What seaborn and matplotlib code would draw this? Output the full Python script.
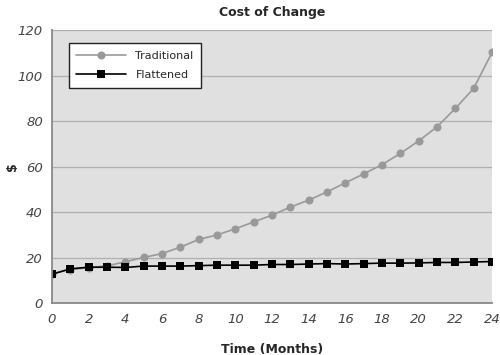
import matplotlib
matplotlib.use("Agg")
import matplotlib.pyplot as plt
import pandas as pd
import seaborn as sns

months = list(range(25))
traditional = [13.0, 14.8, 15.6, 16.4, 18.2, 20.1, 21.8, 24.6, 28.0, 30.0, 32.7,
               35.7, 38.7, 42.2, 45.3, 48.9, 52.9, 56.8, 60.9, 65.8, 71.3,
               77.5, 85.6, 94.4, 110.2]
flattened = [12.7, 15.1, 15.8, 15.8, 15.7, 16.3, 16.3, 16.3, 16.5, 16.7, 16.7,
             16.7, 17.0, 17.0, 17.2, 17.4, 17.2, 17.4, 17.6, 17.6, 17.7,
             17.9, 17.9, 18.1, 18.3]

df = pd.DataFrame({
    "month": months * 2,
    "cost": traditional + flattened,
    "series": ["Traditional"] * 25 + ["Flattened"] * 25,
})

sns.set_style("white")
plt.rcParams["font.family"] = ["DejaVu Sans"]

fig = plt.figure(figsize=(5, 3.55), dpi=100)
ax = fig.add_axes([0.104, 0.146, 0.88, 0.769])
ax.set_facecolor("#e0e0e0")

sns.lineplot(data=df, x="month", y="cost", hue="series", style="series",
             palette={"Traditional": "#999999", "Flattened": "#000000"},
             markers={"Traditional": "o", "Flattened": "s"},
             dashes=False, markersize=5.8, markeredgewidth=0, linewidth=1.2,
             ax=ax)

ax.set_xlim(0, 24)
ax.set_ylim(0, 120)
ax.set_xticks(range(0, 25, 2))
ax.set_xticks(range(25), minor=True)
ax.set_yticks(range(0, 121, 20))
ax.grid(axis="y", color="#b0b0b0", lw=0.9)
ax.set_axisbelow(True)
for s in ("top", "right"):
    ax.spines[s].set_visible(False)
for s in ("left", "bottom"):
    ax.spines[s].set_color("#888888")
    ax.spines[s].set_linewidth(1.3)
ax.tick_params(axis="both", which="both", direction="inout", color="#888888",
               labelcolor="#444444", labelsize=9.5)
ax.tick_params(axis="x", which="both", length=6, pad=4)
ax.tick_params(axis="y", length=6)
for lab in ax.get_xticklabels() + ax.get_yticklabels():
    lab.set_fontstyle("italic")

ax.set_title("Cost of Change", fontsize=9, fontweight="bold", pad=10)
ax.set_xlabel("Time (Months)", fontsize=9, fontweight="bold", labelpad=12)
ax.set_ylabel("$", fontsize=9, fontweight="bold")
ax.yaxis.set_label_coords(-0.075, 0.5)

leg = ax.legend(loc="upper left", bbox_to_anchor=(0.038, 0.952), frameon=True,
                fancybox=False, edgecolor="#222222", fontsize=8,
                handlelength=4.5, borderpad=0.7, labelspacing=0.8,
                handletextpad=0.8, borderaxespad=0)
leg.get_frame().set_linewidth(1)
leg.get_frame().set_facecolor("white")
leg.get_frame().set_alpha(1)

fig.savefig("out.png", dpi=100)
